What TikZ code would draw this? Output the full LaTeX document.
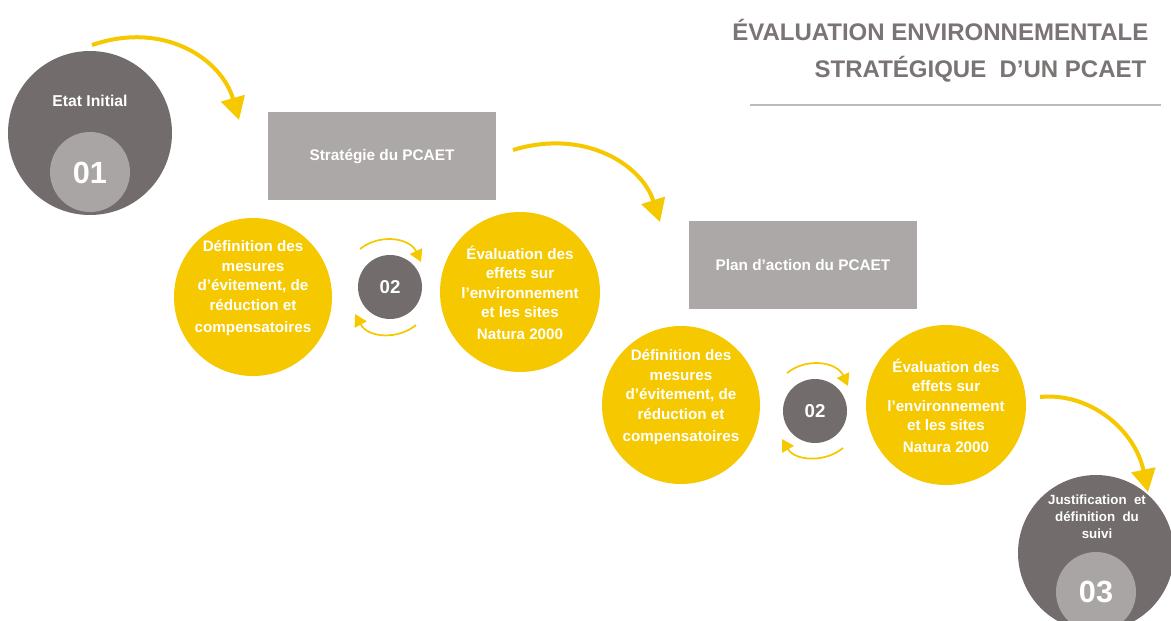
\documentclass[tikz,border=0pt]{standalone}
\usepackage{fontspec}
\setmainfont{Liberation Sans}
\usetikzlibrary{arrows.meta}
\definecolor{ylw}{RGB}{246,200,0}
\definecolor{dkg}{RGB}{114,108,108}
\definecolor{ltg}{RGB}{169,165,164}
\definecolor{rcg}{RGB}{172,168,167}
\definecolor{ttl}{RGB}{122,116,116}
\definecolor{rule}{RGB}{190,187,187}
\begin{document}
\begin{tikzpicture}[x=0.75pt,y=-0.75pt,
  bigarrow/.style={draw=ylw,line width=3pt,-{Triangle[length=17pt,width=18pt]}},
  smallarrow/.style={draw=ylw,line width=1.3pt,-{Triangle[length=9pt,width=10pt]}},
  ycirc/.style={circle,fill=ylw,minimum size=158*0.75pt,inner sep=0pt},
  dcirc/.style={circle,fill=dkg,inner sep=0pt},
  lcirc/.style={circle,fill=ltg,inner sep=0pt,minimum size=80*0.75pt},
  numcirc/.style={circle,fill=dkg,inner sep=0pt,minimum size=64*0.75pt,text=white,font=\bfseries\fontsize{14}{16}\selectfont},
  gbox/.style={rectangle,fill=rcg,minimum width=228*0.75pt,minimum height=88*0.75pt,text=white,font=\bfseries\fontsize{11.5}{13}\selectfont},
  ctext/.style={text=white,align=center,font=\bfseries\fontsize{11.4}{14.6}\selectfont},
  bignum/.style={text=white,font=\bfseries\fontsize{23}{26}\selectfont},
  titletext/.style={text=ttl,anchor=east,font=\bfseries\fontsize{18}{20}\selectfont}]
\useasboundingbox (0,0) rectangle (1171,621);
\fill[white] (0,0) rectangle (1171,621);

% title
\node[titletext] (t1) at (1153,30) {ÉVALUATION ENVIRONNEMENTALE};
\node[titletext] (t2) at (1151,69) {STRATÉGIQUE\ \ D’UN PCAET};
\coordinate (r1) at (750,105);
\coordinate (r2) at (1161,105);
\draw[rule,line width=1.3pt] (r1) -- (r2);

% step 01
\node[dcirc,minimum size=164*0.75pt] (c01) at (90,133) {};
\node[lcirc] (i01) at (90,172) {};
\node[text=white,font=\bfseries\fontsize{11.8}{13}\selectfont] (e01) at (90,101) {Etat Initial};
\node[bignum] (n01) at (90,173) {01};

% boxes
\node[gbox] (strat) at (382,156) {Stratégie du PCAET};
\node[gbox] (plan) at (803,265) {Plan d’action du PCAET};

% first cycle
\node[ycirc] (y1) at (253,297) {};
\node[ctext] (y1t) at (253,288) {Définition des\\mesures\\d’évitement, de\\réduction et\\[2pt]compensatoires};
\node[numcirc] (n02a) at (390,287) {02};
\node[ycirc,minimum size=160*0.75pt] (y2) at (520,292) {};
\node[ctext] (y2t) at (520,293) {Évaluation des\\effets sur\\l’environnement\\et les sites\\[2pt]Natura 2000};

% second cycle
\node[ycirc] (y3) at (681,405) {};
\node[ctext] (y3t) at (681,397) {Définition des\\mesures\\d’évitement, de\\réduction et\\[2pt]compensatoires};
\node[numcirc] (n02b) at (815,411) {02};
\node[ycirc,minimum size=160*0.75pt] (y4) at (946,405) {};
\node[ctext] (y4t) at (946,406) {Évaluation des\\effets sur\\l’environnement\\et les sites\\[2pt]Natura 2000};

% step 03
\node[dcirc,minimum size=156*0.75pt] (c03) at (1096,553) {};
\node[lcirc] (i03) at (1096,592) {};
\node[text=white,align=center,font=\bfseries\fontsize{10}{12.8}\selectfont] (e03) at (1097,517) {Justification\ \ et\\définition\ \ du\\suivi};
\node[bignum] (n03) at (1096,592) {03};

% big arrows
\coordinate (a1s) at (92,45);
\coordinate (a1e) at (239,120);
\draw[bigarrow] (a1s) .. controls (165,20) and (222,60) .. (a1e);
\coordinate (a2s) at (513,150);
\coordinate (a2e) at (660,222);
\draw[bigarrow] (a2s) .. controls (585,128) and (642,165) .. (a2e);
\coordinate (a3s) at (1040,397);
\coordinate (a3e) at (1148,492);
\draw[bigarrow] (a3s) .. controls (1090,392) and (1135,430) .. (a3e);

% small cycle arrows 1
\coordinate (s1a) at (360,249);
\coordinate (s1b) at (421,262);
\draw[smallarrow] (s1a) .. controls (380,233) and (410,238) .. (s1b);
\coordinate (s2a) at (416,325);
\coordinate (s2b) at (355,314);
\draw[smallarrow] (s2a) .. controls (398,340) and (368,338) .. (s2b);
% small cycle arrows 2
\coordinate (s3a) at (787,373);
\coordinate (s3b) at (848,386);
\draw[smallarrow] (s3a) .. controls (807,357) and (837,362) .. (s3b);
\coordinate (s4a) at (843,448);
\coordinate (s4b) at (782,439);
\draw[smallarrow] (s4a) .. controls (825,463) and (795,461) .. (s4b);
\end{tikzpicture}
\end{document}
